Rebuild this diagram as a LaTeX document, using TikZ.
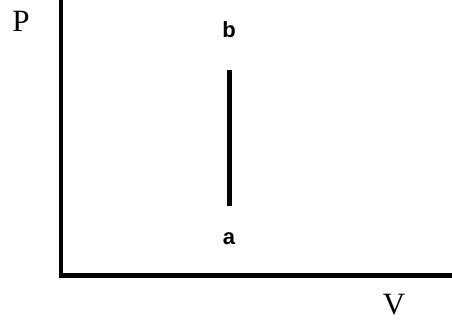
\documentclass[tikz,border=0pt]{standalone}
\usepackage{fontspec}
\setmainfont{Liberation Serif}
\newfontfamily\labfont{Liberation Sans}
\tikzset{
  axislabel/.style={inner sep=0pt, font=\fontsize{31}{31}\selectfont},
  pointlabel/.style={inner sep=0pt, font=\labfont\bfseries\fontsize{22}{22}\selectfont},
  procline/.style={line width=5pt}
}
\begin{document}
\begin{tikzpicture}[x=1pt,y=-1pt]
\useasboundingbox[fill=white] (0,0) rectangle (452,323);
\coordinate (top) at (60.5,0);
\coordinate (origin) at (60.5,275.5);
\coordinate (corner) at (58.5,275.5);
\coordinate (right) at (452,275.5);
\draw[line width=4pt] (top) -- (origin);
\draw[line width=5.5pt] (corner) -- (right);
\node[axislabel] (P) at (21,21) {P};
\node[axislabel] (V) at (394,305) {V};
\node[pointlabel] (b) at (229,30) {b};
\node[pointlabel] (a) at (229,239) {a};
\coordinate (bend) at (229,70);
\coordinate (aend) at (229,206);
\draw[procline] (bend) -- (aend);
\end{tikzpicture}
\end{document}
